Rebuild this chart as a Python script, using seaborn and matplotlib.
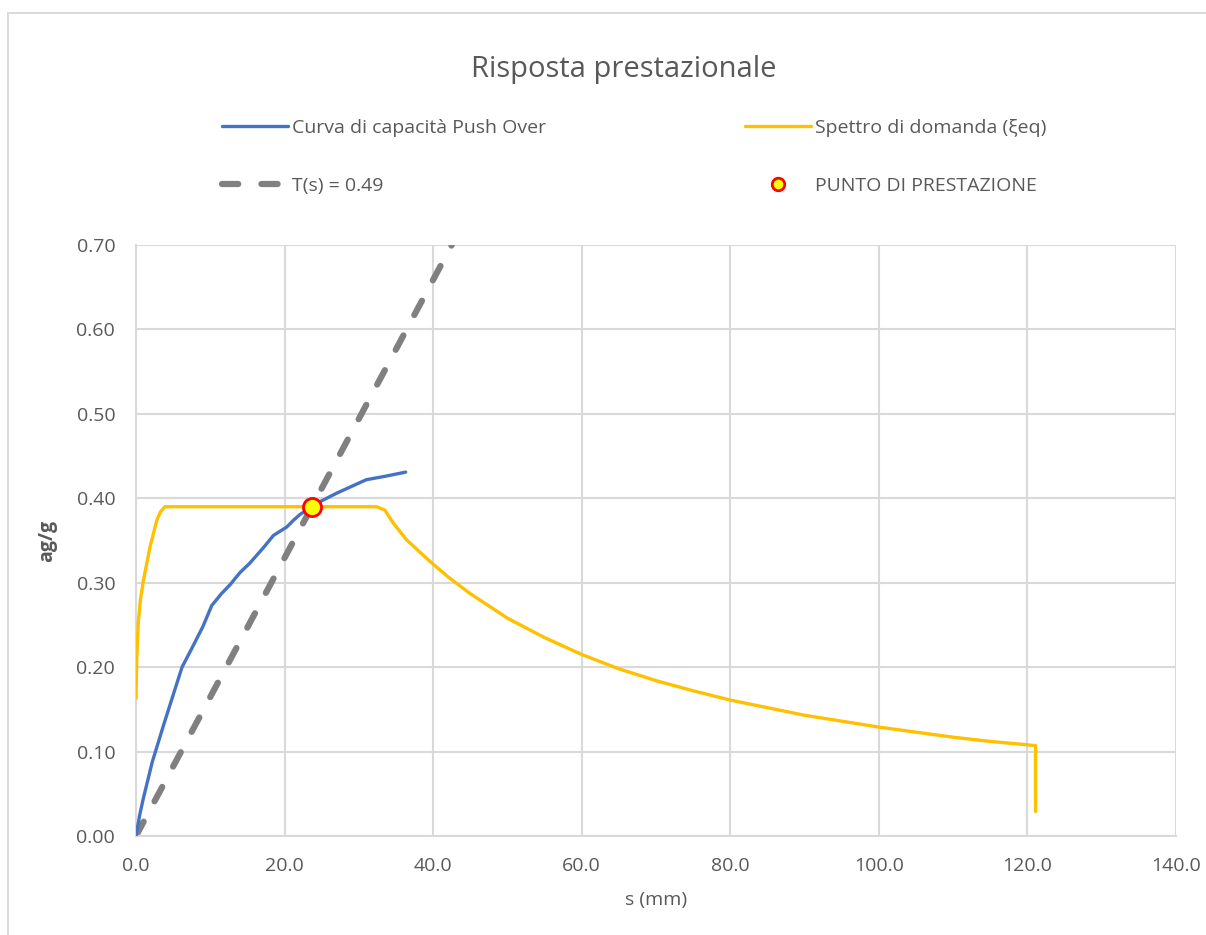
import matplotlib
matplotlib.use("Agg")
import matplotlib.pyplot as plt
from matplotlib.patches import Rectangle
from matplotlib.lines import Line2D
from matplotlib.ticker import FormatStrFormatter, MultipleLocator
import seaborn as sns
import pandas as pd

# Pushover capacity curve (displacement in mm, spectral acceleration in g)
cap_s = [0, 0.5, 1.0, 2.2, 3.7, 5.0, 6.2, 7.5, 9.0, 10.2, 11.5, 12.7, 14.0,
         15.3, 16.5, 17.2, 18.5, 20.3, 21.2, 22.1, 23.0, 23.7, 25.0, 27.0,
         29.0, 31.0, 33.5, 36.3]
cap_a = [0, 0.025, 0.045, 0.088, 0.131, 0.167, 0.200, 0.222, 0.248, 0.273,
         0.287, 0.298, 0.312, 0.323, 0.335, 0.342, 0.356, 0.366, 0.374, 0.381,
         0.386, 0.390, 0.397, 0.406, 0.414, 0.422, 0.426, 0.431]

# Demand spectrum (ADRS) with equivalent damping
dem_s = [0, 0.1, 0.3, 0.6, 1.0, 1.5, 1.9, 2.4, 2.8, 3.3, 3.9, 10, 20, 30,
         32.4, 33.5, 34.6, 36.4, 38.0, 39.6, 42, 45, 50, 55, 60, 65, 70, 75,
         80, 85, 90, 95, 100, 105, 110, 115, 120, 121.1, 121.1]
dem_a = [0.163, 0.21, 0.252, 0.28, 0.303, 0.325, 0.343, 0.36, 0.374, 0.384,
         0.390, 0.390, 0.390, 0.390, 0.390, 0.386, 0.371, 0.351, 0.338, 0.325,
         0.307, 0.287, 0.258, 0.235, 0.215, 0.198, 0.184, 0.172, 0.161, 0.152,
         0.143, 0.136, 0.129, 0.123, 0.117, 0.112, 0.108, 0.107, 0.029]

# Radial line of the equivalent period T = 0.49 s
period_s = [0, 42.5]
period_a = [0, 0.70]

# Performance point
pp_s = [23.7]
pp_a = [0.390]

labels = ["Curva di capacità Push Over", "Spettro di domanda (ξeq)",
          "T(s) = 0.49", "PUNTO DI PRESTAZIONE"]

sns.set_theme(style="whitegrid")
plt.rcParams["font.family"] = ["Open Sans", "DejaVu Sans"]

TXT = "#595959"
GRID = "#d9d9d9"
BLUE = "#4472C4"
GOLD = "#FFC000"
GREY = "#808080"
DASH = (2.6, 3.7)

fig = plt.figure(figsize=(12.06, 9.35), dpi=100)
fig.patch.set_facecolor("white")
W, H = 1206, 935
ax = fig.add_axes([136 / W, 1 - 836 / H, (1176 - 136) / W, (836 - 245) / H])

# outer chart frame
fig.patches.append(Rectangle((8 / W, -0.2), 1.2, 1.2 - 13 / H,
                             transform=fig.transFigure, fill=False,
                             edgecolor=GRID, linewidth=1.4))

df_cap = pd.DataFrame({"s": cap_s, "a": cap_a})
df_dem = pd.DataFrame({"s": dem_s, "a": dem_a})
df_per = pd.DataFrame({"s": period_s, "a": period_a})
df_pp = pd.DataFrame({"s": pp_s, "a": pp_a})

sns.lineplot(data=df_cap, x="s", y="a", ax=ax, color=BLUE, linewidth=2.4,
             sort=False, estimator=None, zorder=3)
sns.lineplot(data=df_dem, x="s", y="a", ax=ax, color=GOLD, linewidth=2.4,
             sort=False, estimator=None, zorder=3)
sns.lineplot(data=df_per, x="s", y="a", ax=ax, color=GREY, linewidth=4.5,
             sort=False, estimator=None, zorder=2)
l_per = ax.lines[-1]
l_per.set_dashes(DASH)
l_per.set_dash_capstyle("round")
sns.scatterplot(data=df_pp, x="s", y="a", ax=ax, s=13 ** 2, color="#FFFF00",
                edgecolor="#FF0000", linewidth=2, zorder=5)

ax.set_xlim(0, 140)
ax.set_ylim(0, 0.70)
ax.xaxis.set_major_locator(MultipleLocator(20))
ax.yaxis.set_major_locator(MultipleLocator(0.10))
ax.xaxis.set_major_formatter(FormatStrFormatter("%.1f"))
ax.yaxis.set_major_formatter(FormatStrFormatter("%.2f"))
ax.grid(True, color=GRID, linewidth=1.5)
ax.set_axisbelow(True)
for side in ["top", "right"]:
    ax.spines[side].set_visible(False)
for side in ["left", "bottom"]:
    ax.spines[side].set_color(GRID)
    ax.spines[side].set_linewidth(1.5)
ax.tick_params(axis="both", length=0, labelsize=14, labelcolor=TXT)
ax.tick_params(axis="y", pad=15)
ax.tick_params(axis="x", pad=15)

ax.set_xlabel("s (mm)", fontsize=14, color=TXT, labelpad=12)
ax.set_ylabel("ag/g", fontsize=14, color=TXT, fontweight="bold", labelpad=14)

fig.text(624 / W, 1 - 70 / H, "Risposta prestazionale", ha="center",
         va="center", fontsize=21, color=TXT)

# legend: two columns, placed individually
h_cap = Line2D([], [], color=BLUE, linewidth=2.4)
h_dem = Line2D([], [], color=GOLD, linewidth=2.4)
h_per = Line2D([], [], color=GREY, linewidth=4.5, dashes=DASH,
               dash_capstyle="round")
h_pp = Line2D([], [], linestyle="none", marker="o", markersize=9,
              markerfacecolor="#FFFF00", markeredgecolor="#FF0000",
              markeredgewidth=2)

common = dict(loc="upper left", frameon=False, fontsize=14, borderpad=0,
              borderaxespad=0, handlelength=3.4, handletextpad=0.2,
              labelspacing=2.05, labelcolor=TXT)
fig.legend([h_cap, h_per], [labels[0], labels[2]],
           bbox_to_anchor=(222 / W, 1 - 119 / H), **common)
fig.legend([h_dem, h_pp], [labels[1], labels[3]],
           bbox_to_anchor=(745 / W, 1 - 119 / H), **common)

fig.savefig("out.png", dpi=100, facecolor="white")
